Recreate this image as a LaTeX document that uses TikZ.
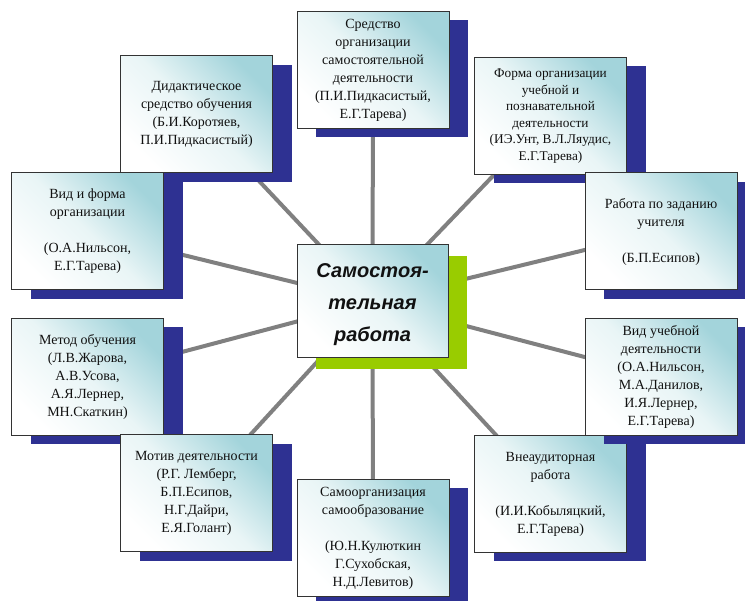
\documentclass[tikz,border=0pt]{standalone}
\usepackage{fontspec}
\setmainfont{Liberation Serif}
\newfontfamily\cfont{Liberation Sans}
\usetikzlibrary{shadows}
\definecolor{shblue}{HTML}{2E3192}
\definecolor{shgreen}{HTML}{99CC00}
\definecolor{boxteal}{HTML}{A3D4DB}
\definecolor{boxmid}{HTML}{E9F5F6}
\definecolor{lnk}{HTML}{808080}
\definecolor{bord}{HTML}{333333}
\definecolor{txt}{HTML}{111111}
\pgfdeclarelayer{bg}
\pgfsetlayers{bg,main}
\tikzset{
  gradfill/.style={top color=boxteal, bottom color=white, middle color=boxmid, shading angle=-45},
  infobox/.style={draw=bord, line width=1pt, gradfill,
    minimum width=152pt, minimum height=117pt, inner sep=0pt, align=center,
    text=txt, font=\fontsize{14}{18}\selectfont,
    drop shadow={shadow xshift=19pt, shadow yshift=-9pt, fill=shblue, opacity=1}},
  smalltext/.style={font=\fontsize{13.3}{16.5}\selectfont},
  hubbox/.style={draw=bord, line width=1pt, gradfill,
    minimum width=151pt, minimum height=113pt, inner sep=0pt,
    drop shadow={shadow xshift=19pt, shadow yshift=-11pt, fill=shgreen, opacity=1}},
  hubtext/.style={align=center, inner sep=0pt, text=txt,
    font=\cfont\bfseries\itshape\fontsize{20}{32}\selectfont},
  link/.style={draw=lnk, line width=4pt}
}
\begin{document}
\begin{tikzpicture}[x=1pt,y=-1pt]
\path[use as bounding box] (0,0) rectangle (745,601);
% counter-clockwise drawing order
\node[infobox] (sred) at (373,70) {Средство\\организации\\самостоятельной\\деятельности\\(П.И.Пидкасистый,\\Е.Г.Тарева)};
\node[infobox] (didak) at (196.5,114.5) {Дидактическое\\средство обучения\\(Б.И.Коротяев,\\П.И.Пидкасистый)};
\node[infobox] (vidf) at (87.5,231.5) {Вид и форма\\организации\\[18pt](О.А.Нильсон,\\Е.Г.Тарева)};
\node[infobox] (metod) at (87.5,377) {Метод обучения\\(Л.В.Жарова,\\А.В.Усова,\\А.Я.Лернер,\\МН.Скаткин)};
\node[infobox] (motiv) at (196.5,493.5) {Мотив деятельности\\(Р.Г. Лемберг,\\Б.П.Есипов,\\Н.Г.Дайри,\\Е.Я.Голант)};
\node[infobox] (samo) at (373,538) {Самоорганизация\\самообразование\\[18pt](Ю.Н.Кулюткин\\Г.Сухобская,\\Н.Д.Левитов)};
\node[infobox] (vneaud) at (550.5,494) {Внеаудиторная\\работа\\[18pt](И.И.Кобыляцкий,\\Е.Г.Тарева)};
\node[infobox] (viduch) at (661,377) {Вид учебной\\деятельности\\(О.А.Нильсон,\\М.А.Данилов,\\И.Я.Лернер,\\Е.Г.Тарева)};
\node[infobox,smalltext] (forma) at (550.5,116) {Форма организации\\учебной и\\познавательной\\деятельности\\(ИЭ.Унт, В.Л.Ляудис,\\Е.Г.Тарева)};
\node[infobox] (rabota) at (661,231.5) {Работа по заданию\\учителя\\[18pt](Б.П.Есипов)};
\node[hubbox] (hub) at (372.5,301.5) {};
\node[hubtext] (hubt) at (372.5,305) {Самостоя-\\тельная\\работа};
\begin{pgfonlayer}{bg}
\foreach \t in {sred,didak,vidf,metod,motiv,samo,vneaud,viduch,forma,rabota}
  \draw[link] (hub.center) -- (\t.center);
\end{pgfonlayer}
\end{tikzpicture}
\end{document}
